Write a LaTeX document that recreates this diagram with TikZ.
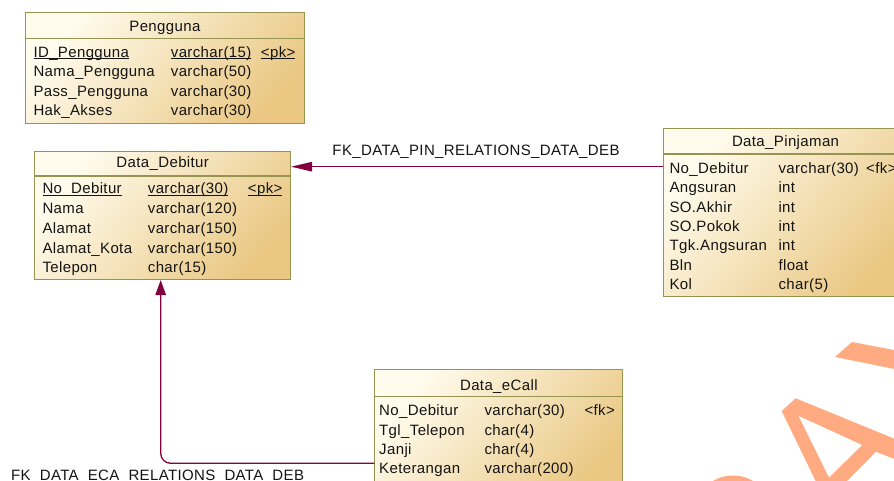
\documentclass[tikz,border=0pt]{standalone}
\usepackage{fontspec}
\setmainfont{Liberation Sans}[LetterSpace=2.5]
\usetikzlibrary{arrows.meta}

\definecolor{tblborder}{RGB}{150,148,80}
\definecolor{tbllight}{RGB}{255,252,238}
\definecolor{tbldark}{RGB}{234,200,132}
\definecolor{fkcol}{RGB}{128,0,64}
\definecolor{inkcol}{RGB}{20,20,20}
\definecolor{markcol}{RGB}{255,170,128}

% underlined key column text
\newlength\ulw
\newcommand\ulined[1]{\settowidth\ulw{#1}\rlap{\rule[-1.6pt]{\ulw}{0.9pt}}#1}

% one table row: name, baseline, column x positions, column texts
\newcommand\rowtwo[6]{%
  \node[cell] (#1a) at (#3,#2) {#5};
  \node[cell] (#1b) at (#4,#2) {#6};}
\newcommand\rowthree[8]{%
  \node[cell] (#1a) at (#3,#2) {#6};
  \node[cell] (#1b) at (#4,#2) {#7};
  \node[cell] (#1c) at (#5,#2) {#8};}

\begin{document}
\begin{tikzpicture}[x=1pt,y=-1pt,
  font=\fontsize{15}{17}\selectfont, text=inkcol,
  tbl/.style={draw=tblborder, line width=1.1pt, rectangle, anchor=north west,
    inner sep=0pt, top color=tbllight, bottom color=tbldark, shading angle=50},
  sepline/.style={draw=tblborder, line width=1.1pt},
  cell/.style={anchor=base west, inner sep=0pt},
  tbltitle/.style={anchor=base, inner sep=0pt},
  fk/.style={draw=fkcol, line width=1.3pt},
  fklabel/.style={inner sep=0pt}]

\useasboundingbox (0,0) rectangle (894,481);
\clip (0,0) rectangle (894,481);
\fill[white] (0,0) rectangle (894,481);

% background watermark letters
\fill[markcol] (852,342) -- (912,353.5) -- (912,372.5) -- (835,357) -- cycle;
\fill[markcol, even odd rule]
  (781.7,411) -- (795.7,398.3) -- (912,446) -- (912,466) -- (876,451.7)
  -- (840,488) -- (820,490) -- cycle
  (798.3,415.7) -- (862.3,445) -- (829,477.7) -- cycle;
\fill[markcol] (733,514.5) circle[radius=39pt];

% ---------------- Pengguna
\node[tbl, minimum width=279.3pt, minimum height=111pt] (usr) at (24.7,12.3) {};
\draw[sepline] (usr.west |- 0,38.3) -- (usr.east |- 0,38.3);
\node[tbltitle] (usrT) at (usr.north |- 0,31.7) {Pengguna};
\rowthree{usrR1}{57.3}{33.3}{170.7}{260.7}{\ulined{ID\_Pengguna}}{\ulined{varchar(15)}}{\ulined{<pk>}}
\rowtwo{usrR2}{77}{33.3}{170.7}{Nama\_Pengguna}{varchar(50)}
\rowtwo{usrR3}{96.5}{33.3}{170.7}{Pass\_Pengguna}{varchar(30)}
\rowtwo{usrR4}{116}{33.3}{170.7}{Hak\_Akses}{varchar(30)}

% ---------------- Data_Debitur
\node[tbl, minimum width=255.7pt, minimum height=128.3pt] (deb) at (34.3,150.7) {};
\draw[sepline] (deb.west |- 0,176) -- (deb.east |- 0,176);
\node[tbltitle] (debT) at (deb.north |- 0,167.7) {Data\_Debitur};
\rowthree{debR1}{194}{42.3}{147.7}{247.7}{\ulined{No\_Debitur}}{\ulined{varchar(30)}}{\ulined{<pk>}}
\rowtwo{debR2}{214}{42.3}{147.7}{Nama}{varchar(120)}
\rowtwo{debR3}{233.5}{42.3}{147.7}{Alamat}{varchar(150)}
\rowtwo{debR4}{253}{42.3}{147.7}{Alamat\_Kota}{varchar(150)}
\rowtwo{debR5}{272.7}{42.3}{147.7}{Telepon}{char(15)}

% ---------------- Data_Pinjaman
\node[tbl, minimum width=243.4pt, minimum height=167.7pt] (pin) at (663.3,128.3) {};
\draw[sepline] (pin.west |- 0,154) -- (pin.east |- 0,154);
\node[tbltitle] (pinT) at (pin.north |- 0,146.7) {Data\_Pinjaman};
\rowthree{pinR1}{173.3}{669.3}{778.3}{866}{No\_Debitur}{varchar(30)}{<fk>}
\rowtwo{pinR2}{192.7}{669.3}{778.3}{Angsuran}{int}
\rowtwo{pinR3}{212.1}{669.3}{778.3}{SO.Akhir}{int}
\rowtwo{pinR4}{231.5}{669.3}{778.3}{SO.Pokok}{int}
\rowtwo{pinR5}{250.9}{669.3}{778.3}{Tgk.Angsuran}{int}
\rowtwo{pinR6}{270.3}{669.3}{778.3}{Bln}{float}
\rowtwo{pinR7}{289.7}{669.3}{778.3}{Kol}{char(5)}

% ---------------- Data_eCall
\node[tbl, minimum width=248pt, minimum height=125pt] (eca) at (374.3,369) {};
\draw[sepline] (eca.west |- 0,396.7) -- (eca.east |- 0,396.7);
\node[tbltitle] (ecaT) at (eca.north |- 0,390) {Data\_eCall};
\rowthree{ecaR1}{415}{379}{484.3}{584.3}{No\_Debitur}{varchar(30)}{<fk>}
\rowtwo{ecaR2}{435}{379}{484.3}{Tgl\_Telepon}{char(4)}
\rowtwo{ecaR3}{454.3}{379}{484.3}{Janji}{char(4)}
\rowtwo{ecaR4}{473.3}{379}{484.3}{Keterangan}{varchar(200)}

% ---------------- references
\coordinate (pinLink) at (0,166.7);
\draw[fk, -{Triangle[length=21pt,width=9.5pt]}] (pin.west |- pinLink) -- (deb.east |- pinLink);
\node[fklabel, anchor=base] (pinLbl) at (476,156) {FK\_DATA\_PIN\_RELATIONS\_DATA\_DEB};

\coordinate (ecaBend) at (160.7,463.3);
\draw[fk, rounded corners=10pt, -{Triangle[length=15pt,width=10.5pt]}]
  (eca.west |- ecaBend) -| (deb.south -| ecaBend);
\node[fklabel, anchor=base west] (ecaLbl) at (11,480.5) {FK\_DATA\_ECA\_RELATIONS\_DATA\_DEB};

\end{tikzpicture}
\end{document}
